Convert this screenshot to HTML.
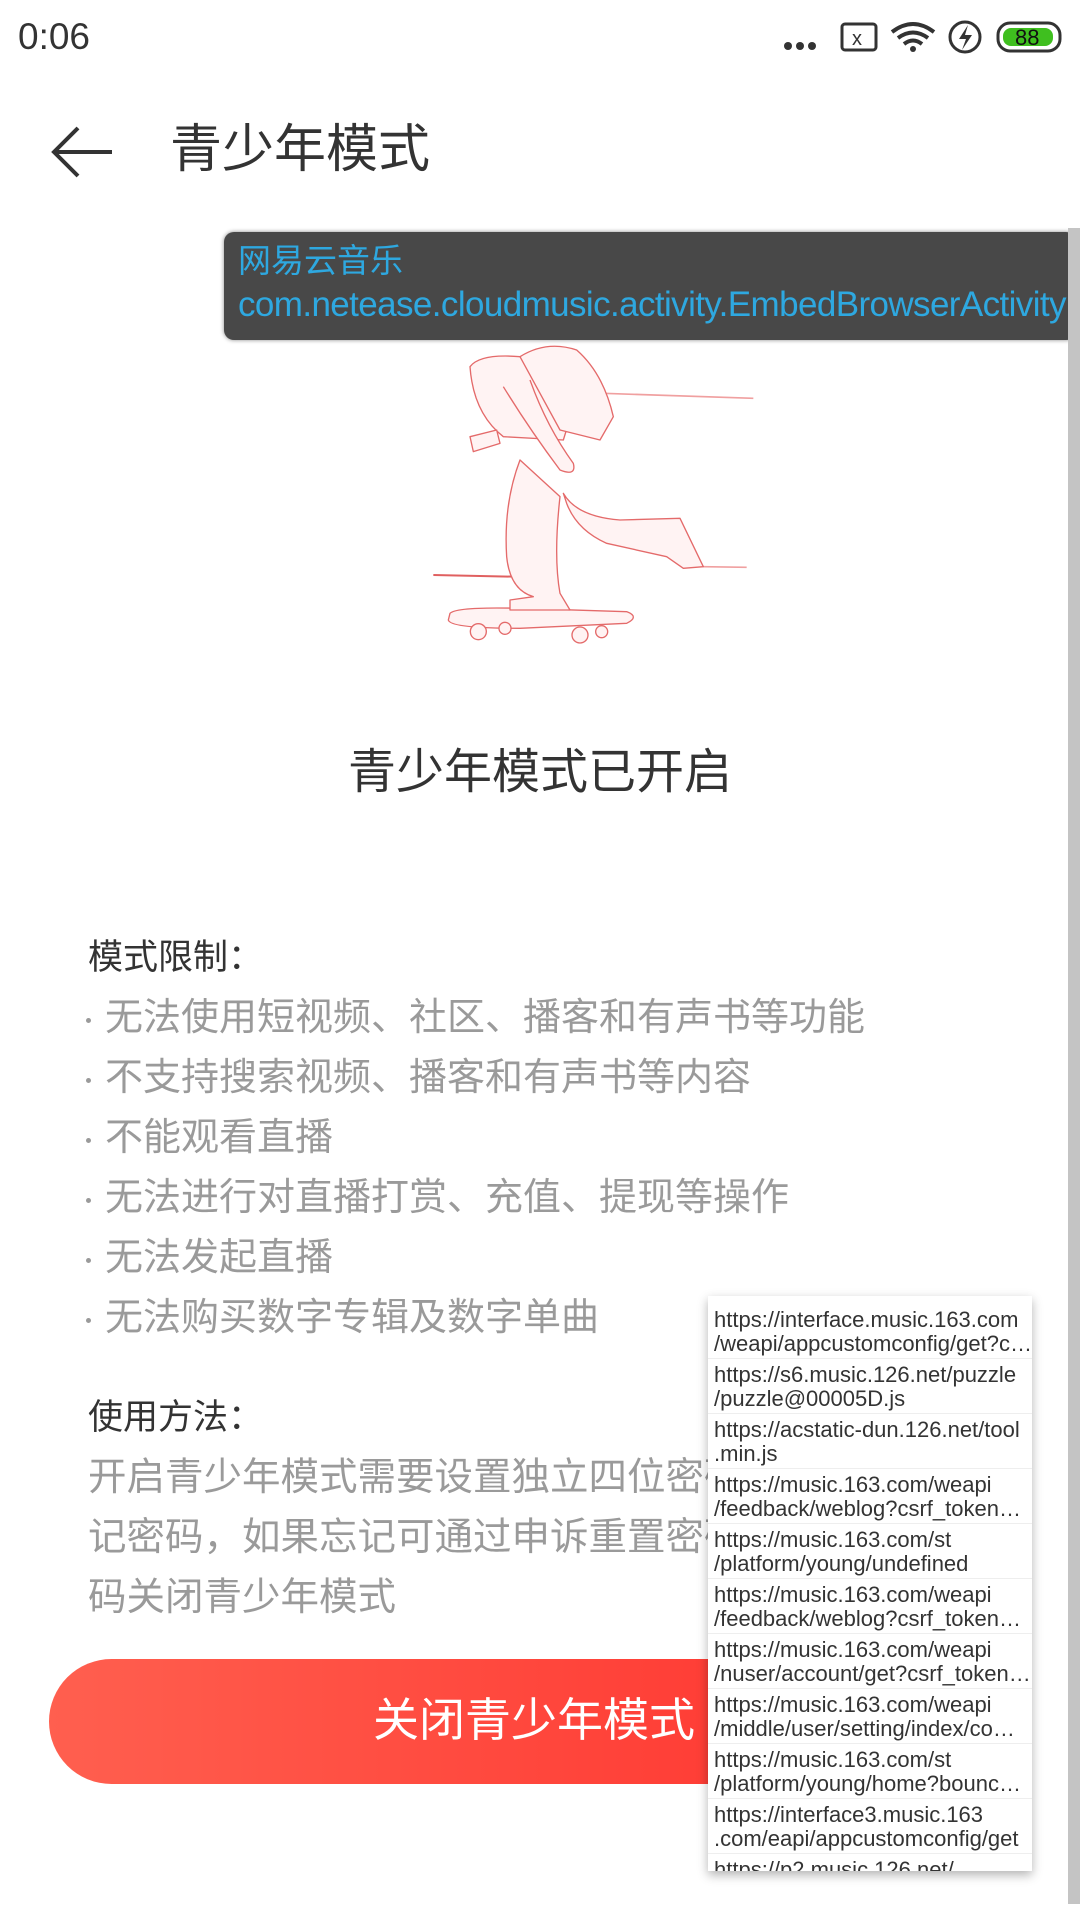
<!DOCTYPE html>
<html lang="zh">
<head>
<meta charset="utf-8">
<style>
  html,body{margin:0;padding:0;}
  body{width:1080px;height:1920px;position:relative;overflow:hidden;background:#fff;
    font-family:"Liberation Sans","Noto Sans CJK SC",sans-serif;color:#333;}
  .abs{position:absolute;}
  .bullet{position:absolute;left:105px;font-size:38px;color:#9a9a9a;white-space:nowrap;line-height:1;}
  .bullet::before{content:"";position:absolute;left:-19px;top:19px;width:5px;height:5px;border-radius:50%;background:#9a9a9a;}
  .para{position:absolute;left:88px;font-size:38.5px;color:#9a9a9a;white-space:nowrap;line-height:1;}
  .item{height:55px;border-bottom:1px solid #eee;padding-left:6px;font-size:22px;line-height:24px;color:#333;white-space:nowrap;overflow:hidden;text-overflow:ellipsis;padding-top:4px;box-sizing:border-box;}
</style>
</head>
<body>
<div class="abs" style="left:18px;top:16px;font-size:37px;color:#333;">0:06</div>
<div class="abs" style="left:780px;top:18px;width:290px;height:40px;">
  <svg width="290" height="40" viewBox="0 0 290 40">
    <circle cx="8" cy="28" r="4" fill="#333"/><circle cx="20" cy="28" r="4" fill="#333"/><circle cx="32" cy="28" r="4" fill="#333"/>
    <rect x="62" y="6" width="34" height="26" rx="3" fill="none" stroke="#333" stroke-width="3"/>
    <text x="72" y="27" font-size="20" fill="#333" font-family="Liberation Sans">x</text>
    <path d="M112 14 Q133 -2 154 14 M118 20 Q133 9 148 20 M124 26 Q133 19 142 26" fill="none" stroke="#333" stroke-width="4"/>
    <circle cx="133" cy="31" r="3" fill="#333"/>
    <circle cx="185" cy="19" r="15" fill="none" stroke="#333" stroke-width="3"/>
    <path d="M188 7 L179 21 L186 21 L182 32 L192 17 L185 17 Z" fill="#333"/>
    <rect x="218" y="5" width="62" height="28" rx="12" fill="none" stroke="#333" stroke-width="3"/>
    <rect x="223" y="10" width="50" height="18" rx="8" fill="#3fbf1f"/>
    <text x="235" y="27" font-size="22" fill="#111" font-family="Liberation Sans">88</text>
  </svg>
</div>

<div class="abs" style="left:50px;top:124px;width:70px;height:56px;">
  <svg width="70" height="56" viewBox="0 0 70 56"><path d="M28 4 L4 28 L28 52 M4 28 L62 28" fill="none" stroke="#333" stroke-width="4"/></svg>
</div>
<div class="abs" style="left:170px;top:124px;font-size:52px;color:#333;line-height:1;">青少年模式</div>

<svg class="abs" style="left:420px;top:330px;" width="340" height="320" viewBox="0 0 1020 960">
  <g fill="#fff3f3" stroke="#e46a6a" stroke-width="4" stroke-linejoin="round">
    <path d="M550 190 L1000 205" stroke="#f0a0a0" stroke-width="5" fill="none"/>
    <path d="M40 735 L280 740" stroke="#e06060" stroke-width="6" fill="none"/>
    <path d="M850 710 L980 712" stroke="#f0a0a0" stroke-width="5" fill="none"/>
    <path d="M90 850 Q110 830 300 835 L620 845 Q660 860 620 880 L300 895 Q90 895 85 870 Z"/>
    <circle cx="175" cy="905" r="24"/><circle cx="255" cy="895" r="18"/><circle cx="480" cy="915" r="24"/><circle cx="545" cy="905" r="18"/>
    <path d="M430 490 Q470 560 600 570 L780 565 L850 710 L790 715 L740 680 L560 640 Q470 600 440 520 Z"/>
    <path d="M300 390 Q250 520 260 680 Q270 780 340 800 L270 810 L270 840 L450 840 L420 790 Q400 680 420 500 Z"/>
    <path d="M150 110 Q180 70 300 80 Q420 90 470 200 L430 330 L250 320 Q160 250 150 110 Z"/>
    <path d="M300 80 Q380 30 470 60 Q550 130 580 260 L540 330 L420 300 Z"/>
    <path d="M250 170 Q330 300 420 420 Q470 440 460 400 Q380 290 330 150" />
    <path d="M150 320 L230 300 L240 340 L160 365 Z"/>
  </g>
</svg>

<div class="abs" style="left:224px;top:232px;width:852px;height:108px;background:#484848;border-radius:10px;box-shadow:0 0 4px #888;">
  <div class="abs" style="left:14px;top:12px;font-size:33px;color:#2ea8e0;line-height:1;">网易云音乐</div>
  <div class="abs" style="left:14px;top:55px;font-size:35px;color:#2ea8e0;line-height:1;letter-spacing:-0.6px;white-space:nowrap;">com.netease.cloudmusic.activity.EmbedBrowserActivity</div>
</div>
<div class="abs" style="left:1068px;top:228px;width:12px;height:1676px;background:#c4c4c4;"></div>

<div class="abs" style="left:0;width:1080px;top:749px;text-align:center;font-size:48px;color:#333;line-height:1;">青少年模式已开启</div>

<div class="abs" style="left:88px;top:940px;font-size:35px;color:#333;line-height:1;">模式限制：</div>
<div class="bullet" style="top:999px;">无法使用短视频、社区、播客和有声书等功能</div>
<div class="bullet" style="top:1059px;">不支持搜索视频、播客和有声书等内容</div>
<div class="bullet" style="top:1119px;">不能观看直播</div>
<div class="bullet" style="top:1179px;">无法进行对直播打赏、充值、提现等操作</div>
<div class="bullet" style="top:1239px;">无法发起直播</div>
<div class="bullet" style="top:1299px;">无法购买数字专辑及数字单曲</div>

<div class="abs" style="left:88px;top:1400px;font-size:35px;color:#333;line-height:1;">使用方法：</div>
<div class="para" style="top:1459px;">开启青少年模式需要设置独立四位密码，请牢</div>
<div class="para" style="top:1519px;">记密码，如果忘记可通过申诉重置密码</div>
<div class="para" style="top:1579px;">码关闭青少年模式</div>

<div class="abs" style="left:49px;top:1659px;width:982px;height:125px;border-radius:63px;background:linear-gradient(90deg,#ff5f4f,#ff2e2a);">
  <div style="position:absolute;left:324px;top:38px;font-size:46px;color:#fff;line-height:1;white-space:nowrap;">关闭青少年模式</div>
</div>

<div class="abs" style="left:708px;top:1296px;width:324px;height:575px;background:#fff;box-shadow:0 4px 10px rgba(0,0,0,0.3);overflow:hidden;padding-top:8px;box-sizing:border-box;">
  <div class="item">https://interface.music.163.com<br>/weapi/appcustomconfig/get?c…</div>
  <div class="item">https://s6.music.126.net/puzzle<br>/puzzle@00005D.js</div>
  <div class="item">https://acstatic-dun.126.net/tool<br>.min.js</div>
  <div class="item">https://music.163.com/weapi<br>/feedback/weblog?csrf_token=…</div>
  <div class="item">https://music.163.com/st<br>/platform/young/undefined</div>
  <div class="item">https://music.163.com/weapi<br>/feedback/weblog?csrf_token=…</div>
  <div class="item">https://music.163.com/weapi<br>/nuser/account/get?csrf_token…</div>
  <div class="item">https://music.163.com/weapi<br>/middle/user/setting/index/co…</div>
  <div class="item">https://music.163.com/st<br>/platform/young/home?bounce…</div>
  <div class="item">https://interface3.music.163<br>.com/eapi/appcustomconfig/get</div>
  <div class="item">https://p2.music.126.net/</div>
</div>
</body>
</html>
